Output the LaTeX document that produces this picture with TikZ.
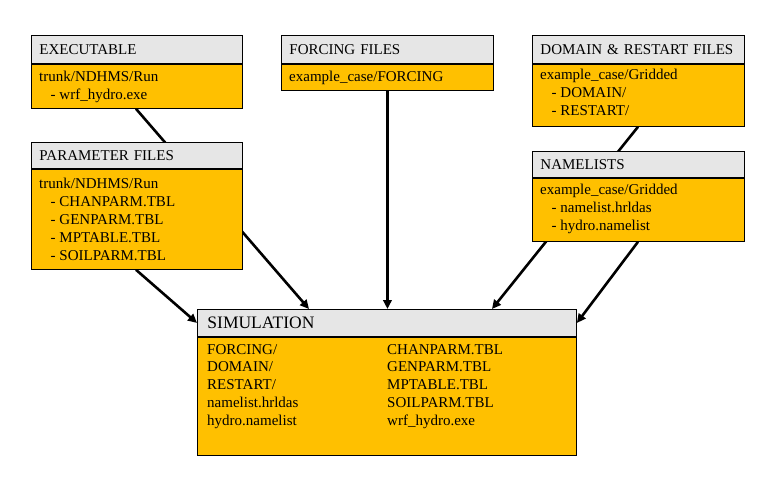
\documentclass[tikz,border=0pt]{standalone}
\usepackage{fontspec}
\setmainfont{Liberation Serif}
\usetikzlibrary{arrows.meta,backgrounds}
\definecolor{hdrgrey}{HTML}{E6E6E6}
\definecolor{bodyorange}{HTML}{FFC000}
\tikzset{
  hdr/.style={draw=black, line width=0.9pt, fill=hdrgrey, anchor=north west,
    inner xsep=8pt, inner ysep=0pt, align=left, minimum height=28pt,
    font=\fontsize{15}{18}\selectfont, text height=10pt, text depth=0pt},
  bodybox/.style={draw=black, line width=0.9pt, fill=bodyorange, anchor=north west,
    inner sep=0pt},
  btext/.style={anchor=north west, inner sep=0pt, align=left,
    font=\fontsize{15}{18}\selectfont, execute at begin node={\rule{0pt}{12pt}}},
  stext/.style={anchor=north west, inner sep=0pt, align=left,
    font=\fontsize{15}{17.75}\selectfont, execute at begin node={\rule{0pt}{12pt}}},
  conn/.style={line width=2.6pt, -{Triangle[length=9pt,width=8.5pt]}}
}
\newcommand\ind{\hspace*{11.5pt}- }
\begin{document}
\begin{tikzpicture}[x=1pt,y=-1pt]
\useasboundingbox (0,0) rectangle (772,485);
% EXECUTABLE
\node[hdr, minimum width=211pt, text width=195pt] (exeH) at (31,35) {EXECUTABLE};
\node[bodybox, minimum width=211pt, minimum height=44pt] (exe) at (exeH.south west) {};
\node[btext] (exeT) at ([xshift=8pt,yshift=-6.5pt]exe.north west) {trunk/NDHMS/Run\\\ind wrf\_hydro.exe};
% PARAMETER FILES
\node[hdr, minimum width=211pt, text width=195pt, minimum height=26pt] (parH) at (31,142) {PARAMETER FILES};
\node[bodybox, minimum width=211pt, minimum height=100pt] (par) at (parH.south west) {};
\node[btext] (parT) at ([xshift=8pt,yshift=-8.5pt]par.north west) {trunk/NDHMS/Run\\\ind CHANPARM.TBL\\\ind GENPARM.TBL\\\ind MPTABLE.TBL\\\ind SOILPARM.TBL};
% FORCING FILES
\node[hdr, minimum width=212pt, text width=196pt] (forH) at (281,35) {FORCING FILES};
\node[bodybox, minimum width=212pt, minimum height=26pt] (for) at (forH.south west) {};
\node[btext] (forT) at ([xshift=8pt,yshift=-5pt]for.north west) {example\_case/FORCING};
% DOMAIN & RESTART FILES
\node[hdr, minimum width=212pt, text width=196pt] (domH) at (532,35) {DOMAIN \& RESTART FILES};
\node[bodybox, minimum width=212pt, minimum height=62pt] (dom) at (domH.south west) {};
\node[btext] (domT) at ([xshift=8pt,yshift=-5pt]dom.north west) {example\_case/Gridded\\\ind DOMAIN/\\\ind RESTART/};
% NAMELISTS
\node[hdr, minimum width=212pt, text width=196pt, minimum height=26pt] (namH) at (532,151) {NAMELISTS};
\node[bodybox, minimum width=212pt, minimum height=63pt] (nam) at (namH.south west) {};
\node[btext] (namT) at ([xshift=8pt,yshift=-6pt]nam.north west) {example\_case/Gridded\\\ind namelist.hrldas\\\ind hydro.namelist};
% SIMULATION
\node[hdr, minimum width=379pt, minimum height=27pt,
  inner xsep=10pt, text width=359pt, font=\fontsize{17.5}{20}\selectfont, text height=11.5pt] (simH) at (197,309) {SIMULATION};
\node[bodybox, minimum width=379pt, minimum height=118pt] (sim) at (simH.south west) {};
\node[stext] (simL) at ([xshift=10pt,yshift=-7pt]sim.north west) {FORCING/\\DOMAIN/\\RESTART/\\namelist.hrldas\\hydro.namelist};
\node[stext] (simR) at ([xshift=190pt,yshift=-7pt]sim.north west) {CHANPARM.TBL\\GENPARM.TBL\\MPTABLE.TBL\\SOILPARM.TBL\\wrf\_hydro.exe};
% connectors
\begin{pgfonlayer}{background}
\fill[white] (0,0) rectangle (772,485);
\draw[conn] ([xshift=105pt]exe.south west) -- ([xshift=112pt]simH.north west);
\draw[conn] ([xshift=105pt]par.south west) -- (simH.west);
\draw[conn] (for.south) -- (for.south |- simH.north);
\draw[conn] ([xshift=106pt]dom.south west) -- ([xshift=295pt]simH.north west);
\draw[conn] ([xshift=106pt]nam.south west) -- (simH.east);
\end{pgfonlayer}
\end{tikzpicture}
\end{document}
